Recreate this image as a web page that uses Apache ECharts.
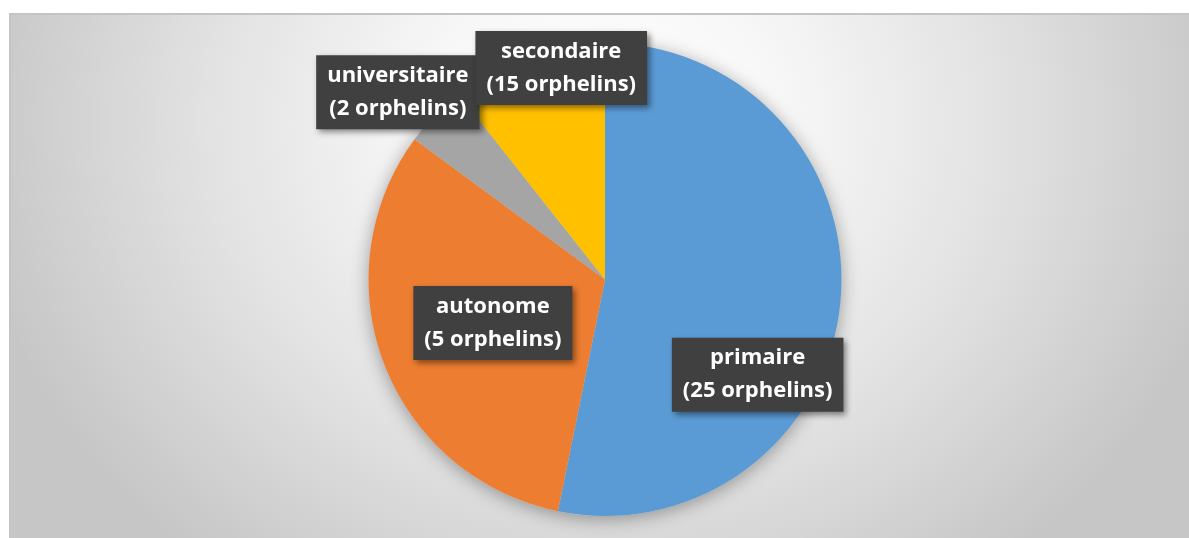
<!DOCTYPE html>
<html>
<head>
<meta charset="utf-8">
<script src="https://cdn.jsdelivr.net/npm/echarts@6/dist/echarts.min.js"></script>
<style>
  html, body { margin: 0; padding: 0; background: #ffffff; }
  #bg {
    position: absolute; left: 9px; top: 13px; width: 1180px; height: 525px;
    box-sizing: border-box;
    border-top: 2px solid #c4c4c4; border-left: 2px solid #c4c4c4;
    background: radial-gradient(ellipse 640px 560px at 592px 108px, #ffffff 0%, #f7f7f7 28%, #e2e2e2 62%, #c6c6c6 100%);
  }
  #chart { position: absolute; left: 0; top: 0; width: 1189px; height: 538px; }
</style>
</head>
<body>
<div id="bg"></div>
<div id="chart"></div>
<script>
// ---- data ----
const categories = ['primaire', 'autonome', 'universitaire', 'secondaire'];
const printedCounts = [25, 5, 2, 15];      // numbers printed in the labels
const sliceValues = [25, 15, 2, 5];         // slice sizes as drawn
const sliceColors = ['#5B9BD5', '#ED7D31', '#A5A5A5', '#FFC000'];

// ---- layout (label shifts from the default inside position) ----
const labelOffsets = [[32, 83], [1, 0], [-120, -103], [-4, -97]];

const chart = echarts.init(document.getElementById('chart'), null, { renderer: 'canvas' });
const total = sliceValues.reduce((a, b) => a + b, 0);

const pieData = categories.map((c, i) => ({
  name: c,
  value: sliceValues[i],
  itemStyle: { color: sliceColors[i] }
}));

chart.setOption({
  backgroundColor: 'transparent',
  animation: false,
  series: [
    {
      // soft drop shadow under the whole pie
      type: 'pie',
      silent: true,
      center: [605, 279.5],
      radius: 236.5,
      z: 1,
      label: { show: false },
      labelLine: { show: false },
      emphasis: { disabled: true },
      itemStyle: {
        color: '#d0d0d0',
        shadowColor: 'rgba(0,0,0,0.35)',
        shadowBlur: 18,
        shadowOffsetY: 3
      },
      data: [{ value: total, name: '' }]
    },
    {
      type: 'pie',
      center: [605, 279.5],
      radius: 236.5,
      startAngle: 90,
      clockwise: true,
      z: 2,
      avoidLabelOverlap: false,
      emphasis: { disabled: true },
      itemStyle: { borderWidth: 0 },
      labelLine: { show: false },
      labelLayout: function (params) {
        const o = labelOffsets[params.dataIndex];
        return { hideOverlap: false, moveOverlap: null, dx: o[0], dy: o[1] };
      },
      label: {
        show: true,
        position: 'inside',
        formatter: (p) => categories[p.dataIndex] + '\n(' + printedCounts[p.dataIndex] + ' orphelins)',
        color: '#ffffff',
        fontFamily: 'Open Sans',
        fontWeight: 'bold',
        fontSize: 22,
        lineHeight: 33,
        align: 'center',
        backgroundColor: '#404040',
        padding: [4, 11, 4, 11],
        shadowColor: 'rgba(0,0,0,0.45)',
        shadowBlur: 6,
        shadowOffsetX: 3,
        shadowOffsetY: 3
      },
      data: pieData
    }
  ]
});
</script>
</body>
</html>
